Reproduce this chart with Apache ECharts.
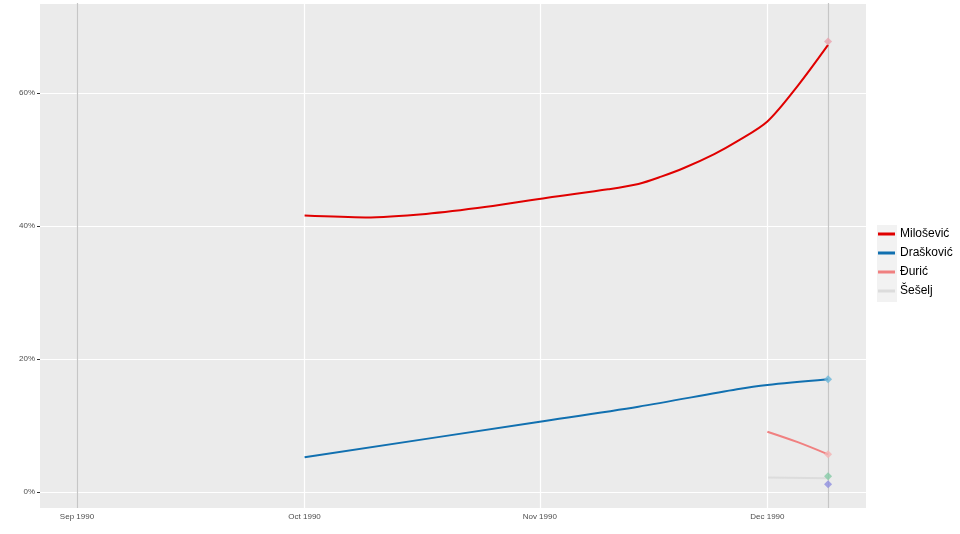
<!DOCTYPE html>
<html>
<head>
<meta charset="utf-8">
<script src="https://cdn.jsdelivr.net/npm/echarts@6/dist/echarts.min.js"></script>
<style>html,body{margin:0;padding:0;background:#fff}#c{width:960px;height:534px}</style>
</head>
<body>
<div id="c"></div>
<script>
// Dates (ISO) and values (%)
const miloDates = ['1990-10-01','1990-10-09','1990-10-17','1990-10-25','1990-11-02','1990-11-10','1990-11-14','1990-11-17','1990-11-20','1990-11-24','1990-11-27','1990-12-01','1990-12-05','1990-12-09'];
const miloVals  = [41.55, 41.28, 41.8, 42.86, 44.24, 45.5, 46.3, 47.4, 48.7, 50.8, 52.7, 55.7, 61.05, 67.2];

const draskDates = ['1990-10-01','1990-11-01','1990-11-14','1990-11-27','1990-12-01','1990-12-09'];
const draskVals  = [5.22, 10.57, 12.83, 15.44, 16.09, 16.95];

const djuricDates = ['1990-12-01','1990-12-05','1990-12-09'];
const djuricVals  = [9.07, 7.5, 5.67];

const seseljDates = ['1990-12-01','1990-12-09'];
const seseljVals  = [2.2, 2.06];

// Election results (diamonds) on election day
const resultDate = '1990-12-09';
const resultVals = [67.7, 16.95, 5.67, 2.36, 1.16];
const resultColors = ['#E8A3AC', '#6BB6DA', '#F4B3B3', '#86CBA6', '#8E8EE0'];

const seriesNames = ['Milošević', 'Drašković', 'Đurić', 'Šešelj'];
const seriesColors = ['#E00000', '#1170B0', '#F08080', '#DCDCDC'];

const xTickDates = ['1990-09-01','1990-10-01','1990-11-01','1990-12-01'];
const xTickLabels = ['Sep 1990','Oct 1990','Nov 1990','Dec 1990'];
const vLineDates = ['1990-09-01','1990-12-09'];

const t = s => Date.parse(s + 'T00:00:00Z');
const pairs = (d, v) => d.map((x, i) => [t(x), v[i]]);
const xTickVals = xTickDates.map(t);

const chart = echarts.init(document.getElementById('c'), null, {renderer: 'canvas'});

const lineData = [pairs(miloDates, miloVals), pairs(draskDates, draskVals), pairs(djuricDates, djuricVals), pairs(seseljDates, seseljVals)];

const series = [];
series.push({
  type: 'line', data: [], silent: true, z: 1,
  markLine: {
    silent: true, symbol: 'none', label: {show: false},
    lineStyle: {color: '#FFFFFF', width: 1.2, type: 'solid'},
    data: xTickVals.map(v => ({xAxis: v}))
  }
});
series.push({
  type: 'line', data: [], silent: true, z: 2,
  markLine: {
    silent: true, symbol: 'none', label: {show: false},
    lineStyle: {color: '#C6C6C6', width: 1.2, type: 'solid'},
    data: vLineDates.map(d => ({xAxis: t(d)}))
  }
});
seriesNames.forEach((n, i) => {
  series.push({
    name: n, type: 'line', data: lineData[i], smooth: 0.3, showSymbol: false,
    lineStyle: {color: seriesColors[i], width: 2},
    itemStyle: {color: seriesColors[i]}, z: i === 3 ? 4 : 5
  });
});
series.push({
  type: 'scatter', symbol: 'diamond', symbolSize: 8, z: 10, silent: true,
  data: resultVals.map((v, i) => ({value: [t(resultDate), v], itemStyle: {color: resultColors[i]}}))
});

chart.setOption({
  animation: false,
  backgroundColor: '#FFFFFF',
  grid: {left: 40, right: 94, top: 3, bottom: 26, show: true, backgroundColor: '#EBEBEB', borderWidth: 0},
  graphic: [{
    type: 'rect', z: -1, silent: true,
    shape: {x: 877, y: 225, width: 20, height: 77},
    style: {fill: '#F2F2F2'}
  }],
  legend: {
    orient: 'vertical', left: 873, top: 222, itemWidth: 17, itemHeight: 3, itemGap: 5,
    icon: 'rect',
    textStyle: {fontSize: 12, color: '#000', fontFamily: 'Liberation Sans, Arial, sans-serif', lineHeight: 14},
    data: seriesNames.map((n, i) => ({name: n, itemStyle: {color: seriesColors[i]}}))
  },
  xAxis: {
    type: 'value',
    min: t('1990-08-27') + 3 * 3600e3,
    max: t('1990-12-14'),
    axisLine: {show: false},
    splitLine: {show: false},
    axisTick: {show: true, length: 3, lineStyle: {color: '#333'}, customValues: xTickVals},
    axisLabel: {
      customValues: xTickVals,
      fontSize: 8, color: '#4D4D4D', margin: 5, fontFamily: 'Liberation Sans, Arial, sans-serif',
      formatter: v => { const k = xTickVals.indexOf(v); return k >= 0 ? xTickLabels[k] : ''; }
    }
  },
  yAxis: {
    type: 'value', min: -2.4, max: 73.5, minInterval: 20, maxInterval: 20,
    axisLine: {show: false},
    splitLine: {show: true, lineStyle: {color: '#FFFFFF', width: 1.2}},
    axisTick: {show: true, length: 3, lineStyle: {color: '#333'}},
    axisLabel: {
      showMinLabel: false, showMaxLabel: false,
      fontSize: 8, color: '#4D4D4D', margin: 5, fontFamily: 'Liberation Sans, Arial, sans-serif',
      formatter: v => (Math.abs(v % 20) < 1e-6 ? v + '%' : '')
    }
  },
  series: series
});
</script>
</body>
</html>
